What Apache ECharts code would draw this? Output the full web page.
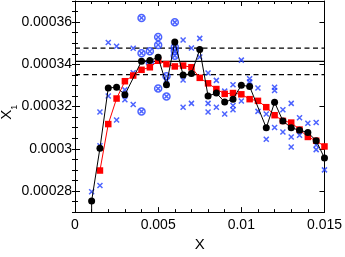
<!DOCTYPE html>
<html>
<head>
<meta charset="utf-8">
<script src="https://cdn.jsdelivr.net/npm/echarts@6/dist/echarts.min.js"></script>
<style>
html,body{margin:0;padding:0;background:#fff;}
#chart{width:345px;height:257px;}
</style>
</head>
<body>
<div id="chart"></div>
<script>
// ---- data ----
var blackX = [0.001, 0.001, 0.0015, 0.002, 0.0025, 0.003, 0.004, 0.0045, 0.005, 0.0055, 0.006, 0.0065, 0.007, 0.0075, 0.008, 0.0085, 0.009, 0.0095, 0.01, 0.0105, 0.0115, 0.012, 0.0125, 0.013, 0.0135, 0.014, 0.0145, 0.015];
var blackY = [0.000250, 0.0002753, 0.0003003, 0.0003288, 0.0003291, 0.0003256, 0.0003415, 0.0003418, 0.0003433, 0.0003303, 0.0003506, 0.0003349, 0.0003356, 0.0003470, 0.0003250, 0.0003264, 0.0003221, 0.0003235, 0.0003301, 0.0003295, 0.0003099, 0.0003220, 0.0003132, 0.0003099, 0.0003088, 0.0003077, 0.0003038, 0.0002956];

var redX = [0.0015, 0.002, 0.0025, 0.003, 0.0035, 0.004, 0.0045, 0.005, 0.0055, 0.006, 0.0065, 0.007, 0.0075, 0.008, 0.0085, 0.009, 0.0095, 0.01, 0.0105, 0.011, 0.0115, 0.012, 0.0125, 0.013, 0.0135, 0.014, 0.0145, 0.015];
var redY = [0.0002897, 0.0003117, 0.0003238, 0.0003320, 0.0003347, 0.0003374, 0.0003386, 0.0003417, 0.0003401, 0.0003390, 0.0003394, 0.0003386, 0.0003336, 0.0003310, 0.0003283, 0.0003260, 0.0003264, 0.0003258, 0.0003235, 0.0003227, 0.0003197, 0.0003159, 0.0003132, 0.0003124, 0.0003091, 0.0003056, 0.0003038, 0.0003011];

var crossPoints = [
  [0.001, 0.0002796],
  [0.0015, 0.0002826], [0.0015, 0.0003014], [0.0015, 0.0003174],
  [0.002, 0.0003503], [0.002, 0.0003250],
  [0.0025, 0.0003486], [0.0025, 0.0003136],
  [0.003, 0.0003279], [0.003, 0.0003232],
  [0.0035, 0.0003476], [0.0035, 0.0003360], [0.0035, 0.0003210],
  [0.0055, 0.0003326],
  [0.0065, 0.0003515], [0.0065, 0.0003326], [0.0065, 0.0003197],
  [0.007, 0.0003477], [0.007, 0.0003215],
  [0.0075, 0.0003523], [0.0075, 0.0003435],
  [0.008, 0.0003359], [0.008, 0.0003215], [0.008, 0.0003174],
  [0.0085, 0.0003197], [0.0085, 0.0003324],
  [0.009, 0.0003273], [0.009, 0.0003165],
  [0.0095, 0.0003303], [0.0095, 0.0003205], [0.0095, 0.0003185],
  [0.01, 0.0003420], [0.01, 0.0003226],
  [0.0105, 0.0003332], [0.0105, 0.0003317],
  [0.011, 0.0003288], [0.011, 0.0003177],
  [0.0115, 0.0003165], [0.0115, 0.0003045],
  [0.012, 0.0003291], [0.012, 0.0003276], [0.012, 0.0003101],
  [0.0125, 0.0003185], [0.0125, 0.0003079],
  [0.013, 0.0003215], [0.013, 0.0003056], [0.013, 0.0003008],
  [0.0135, 0.0003147], [0.0135, 0.0003064],
  [0.014, 0.0003121], [0.014, 0.0003056],
  [0.0145, 0.0003124], [0.0145, 0.0003018], [0.0145, 0.0002996],
  [0.015, 0.0002900]
];

var circledCrossPoints = [
  [0.004, 0.0003620], [0.004, 0.0003453], [0.004, 0.0003177],
  [0.0045, 0.0003462], [0.0045, 0.0003408],
  [0.005, 0.0003529], [0.005, 0.0003492], [0.005, 0.0003285],
  [0.0055, 0.0003344], [0.0055, 0.0003248],
  [0.006, 0.0003599], [0.006, 0.0003482], [0.006, 0.0003464], [0.006, 0.0003441]
];

var meanLevel = 0.0003414;
var upperLevel = 0.0003477;
var lowerLevel = 0.0003351;

var xTicks = [0, 0.005, 0.01, 0.015];
var xTickLabels = ['0', '0.005', '0.01', '0.015'];
var yTicks = [0.00028, 0.0003, 0.00032, 0.00034, 0.00036];
var yTickLabels = ['0.00028', '0.0003', '0.00032', '0.00034', '0.00036'];
var xAxisTitle = 'X';
var yAxisTitle = 'X';
var yAxisTitleSub = '1';

// ---- chart ----
function pairs(xs, ys) { return xs.map(function (x, i) { return [x, ys[i]]; }); }
function labelFor(ticks, labels) {
  return function (v) {
    for (var i = 0; i < ticks.length; i++) {
      if (Math.abs(ticks[i] - v) < 1e-9) return labels[i];
    }
    return '';
  };
}
var FONT = "'Liberation Sans', Arial, Helvetica, sans-serif";
var BLUE = '#1f3cff';
var X_MIN = 0, X_MAX = 0.015, Y_MIN = 0.00027, Y_MAX = 0.00037;

function hline(v, dashed) {
  return {
    type: 'line', xAxisIndex: 0, yAxisIndex: 0,
    data: [[X_MIN, v], [X_MAX, v]],
    symbol: 'none', silent: true, animation: false,
    lineStyle: { color: '#000', width: 1.3, type: dashed ? [5, 3.5] : 'solid' },
    z: 1
  };
}

var chart = echarts.init(document.getElementById('chart'), null, { renderer: 'canvas' });
chart.setOption({
  animation: false,
  backgroundColor: '#fff',
  textStyle: { fontFamily: FONT },
  grid: { left: 75, right: 18, top: 1, height: 219, containLabel: false },
  graphic: [
    {
      type: 'text', x: 7, y: 114.7, rotation: Math.PI / 2,
      style: { text: yAxisTitle, font: '15px ' + FONT, fill: '#000', align: 'center', verticalAlign: 'middle' }
    },
    {
      type: 'text', x: 14.8, y: 107.2, rotation: Math.PI / 2,
      style: { text: yAxisTitleSub, font: '9px ' + FONT, fill: '#000', align: 'center', verticalAlign: 'middle' }
    }
  ],
  xAxis: [
    {
      type: 'value', position: 'bottom', min: X_MIN, max: X_MAX, interval: 0.005,
      axisLine: { show: true, onZero: false, lineStyle: { color: '#000', width: 1 } },
      axisTick: { show: true, inside: true, length: 5, lineStyle: { color: '#000' } },
      minorTick: { show: true, splitNumber: 5, length: 3, lineStyle: { color: '#000' } },
      splitLine: { show: false },
      axisLabel: { formatter: labelFor(xTicks, xTickLabels), fontSize: 14, color: '#000', margin: 6, fontFamily: FONT },
      name: xAxisTitle, nameLocation: 'middle', nameGap: 24,
      nameTextStyle: { fontSize: 15, color: '#000', fontFamily: FONT }
    },
    {
      type: 'value', position: 'top', min: X_MIN, max: X_MAX, interval: 0.005,
      axisLine: { show: true, onZero: false, lineStyle: { color: '#000', width: 1 } },
      axisTick: { show: true, inside: true, length: 5, lineStyle: { color: '#000' } },
      minorTick: { show: true, splitNumber: 5, length: 3, lineStyle: { color: '#000' } },
      splitLine: { show: false },
      axisLabel: { show: false }
    }
  ],
  yAxis: [
    {
      type: 'value', position: 'left', min: Y_MIN, max: Y_MAX, splitNumber: 5,
      axisLine: { show: true, onZero: false, lineStyle: { color: '#000', width: 1 } },
      axisTick: { show: true, inside: true, length: 5, lineStyle: { color: '#000' } },
      splitLine: { show: false },
      axisLabel: { formatter: labelFor(yTicks, yTickLabels), fontSize: 14, color: '#000', margin: 3, fontFamily: FONT, showMinLabel: true, showMaxLabel: true }
    },
    {
      type: 'value', position: 'right', min: Y_MIN, max: Y_MAX, splitNumber: 5,
      axisLine: { show: true, onZero: false, lineStyle: { color: '#000', width: 1 } },
      axisTick: { show: true, inside: true, length: 5, lineStyle: { color: '#000' } },
      splitLine: { show: false },
      axisLabel: { show: false }
    },
    {
      type: 'value', position: 'left', min: Y_MIN, max: Y_MAX, interval: 0.000005,
      axisLine: { show: false },
      axisTick: { show: true, inside: true, length: 3, lineStyle: { color: '#000' } },
      splitLine: { show: false },
      axisLabel: { show: false }
    },
    {
      type: 'value', position: 'right', min: Y_MIN, max: Y_MAX, interval: 0.000005,
      axisLine: { show: false },
      axisTick: { show: true, inside: true, length: 3, lineStyle: { color: '#000' } },
      splitLine: { show: false },
      axisLabel: { show: false }
    }
  ],
  series: [
    hline(meanLevel, false),
    hline(upperLevel, true),
    hline(lowerLevel, true),
    {
      type: 'scatter', xAxisIndex: 0, yAxisIndex: 0,
      data: crossPoints,
      symbol: 'path://M0,0L10,10M10,0L0,10', symbolSize: 5,
      itemStyle: { color: 'rgba(0,0,0,0)', borderColor: BLUE, borderWidth: 1.5 },
      z: 2
    },
    {
      type: 'scatter', xAxisIndex: 0, yAxisIndex: 0,
      data: circledCrossPoints,
      symbol: 'path://M10,0A10,10,0,1,1,10,20A10,10,0,1,1,10,0ZM4.5,4.5L15.5,15.5M15.5,4.5L4.5,15.5', symbolSize: 7,
      itemStyle: { color: 'rgba(0,0,0,0)', borderColor: BLUE, borderWidth: 1.5 },
      z: 2
    },
    {
      type: 'line', xAxisIndex: 0, yAxisIndex: 0,
      data: pairs(redX, redY),
      symbol: 'rect', symbolSize: 6.5, showAllSymbol: true,
      itemStyle: { color: '#ff0000' },
      lineStyle: { color: '#ff0000', width: 1 },
      z: 3
    },
    {
      type: 'line', xAxisIndex: 0, yAxisIndex: 0,
      data: pairs(blackX, blackY),
      symbol: 'circle', symbolSize: 7, showAllSymbol: true, clip: true,
      itemStyle: { color: '#000' },
      lineStyle: { color: '#000', width: 1 },
      z: 4
    }
  ]
});
</script>
</body>
</html>
